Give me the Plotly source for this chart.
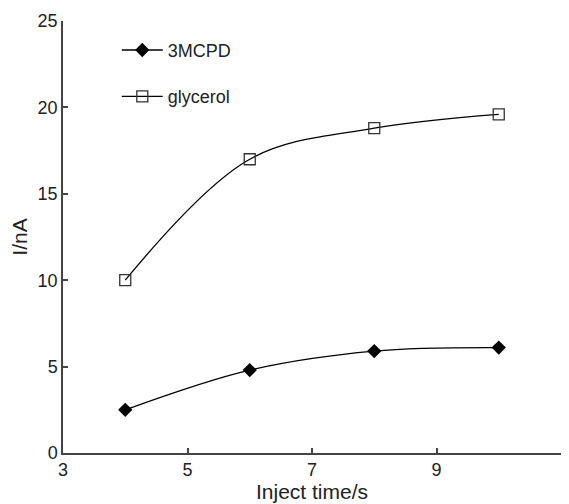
import plotly.graph_objects as go

inject_time = [4, 6, 8, 10]
mcpd = [2.5, 4.8, 5.9, 6.1]
glycerol = [10.0, 17.0, 18.8, 19.6]
x_ticks = [3, 5, 7, 9, 11]
y_ticks = [0, 5, 10, 15, 20, 25]

FONT = "Liberation Sans, Arial"

fig = go.Figure()
fig.add_trace(go.Scatter(
    x=inject_time, y=mcpd, name="3MCPD", mode="lines+markers", legendgroup="a",
    line=dict(color="black", width=1.3, shape="spline", smoothing=1),
    marker=dict(symbol="diamond", size=11, color="black"),
))
fig.add_trace(go.Scatter(
    x=inject_time, y=glycerol, name="glycerol", mode="lines+markers", legendgroup="b",
    line=dict(color="black", width=1.3, shape="spline", smoothing=1),
    marker=dict(symbol="square-open", size=11, color="#333", line=dict(width=1.3)),
))

axis_common = dict(
    showline=True, linecolor="#444", linewidth=1.5, showgrid=False, zeroline=False,
    ticks="inside", ticklen=5, tickcolor="#444", tickwidth=1.5, automargin=False,
    tickfont=dict(family=FONT, size=18, color="#222"),
)
fig.update_xaxes(range=[3, 11], tickvals=x_ticks, **axis_common,
                 title=dict(text="Inject time/s", font=dict(family=FONT, size=21, color="#222"), standoff=0))
fig.update_yaxes(range=[0, 25], tickvals=y_ticks, **axis_common,
                 title=dict(text="I/nA", font=dict(family=FONT, size=21, color="#222"), standoff=8))

# page body has an 8px margin, so the figure is 8px smaller and margins compensate
fig.update_layout(
    width=561, height=496,
    margin=dict(l=55, r=8, t=13, b=51),
    plot_bgcolor="white", paper_bgcolor="white",
    legend=dict(x=0.108, y=0.975, xanchor="left", yanchor="top",
                font=dict(family=FONT, size=18, color="#222"),
                bgcolor="rgba(0,0,0,0)", traceorder="grouped", tracegroupgap=20, itemwidth=41),
    showlegend=True,
)
fig.write_html("out.html")
